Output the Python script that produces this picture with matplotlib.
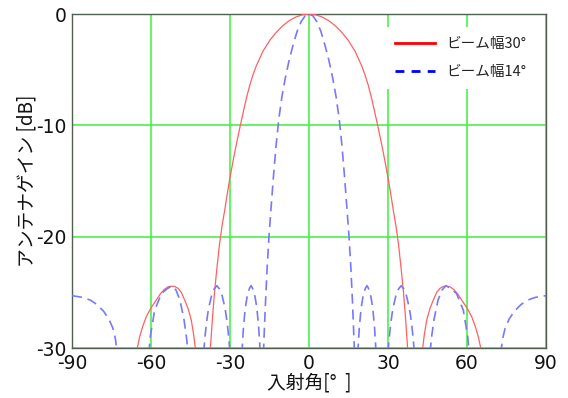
import numpy as np
import matplotlib
matplotlib.use("Agg")
import matplotlib.pyplot as plt
from matplotlib.lines import Line2D

plt.rcParams['font.family'] = ['Noto Sans CJK JP', 'DejaVu Sans']
plt.rcParams['axes.unicode_minus'] = False

nan = np.nan

# ---- data (angle in degrees, gain in dB) ----
# Beam width 30 deg (red, solid)
red_angle = [
    -65.6, -64.3, -63.2, -61.8, -60.0, -58.0, -56.5, -55.0, -53.5, -52.2, -51.0, -49.7, -48.5, -47.2, -46.0, -44.7, -43.8, -42.9, nan,
    -37.6, -37.1, -36.5, -35.8, -35.0, -34.0, -33.0, -32.0, -31.0, -30.0, -28.75, -27.5, -26.25, -25.0, -23.75, -22.5, -21.25,
    -20.0, -17.5, -15.0, -12.5, -10.0, -7.5, -5.0, -2.5,
    0.0,
    2.5, 5.0, 7.5, 10.0, 12.5, 15.0, 17.5, 20.0,
    21.25, 22.5, 23.75, 25.0, 26.25, 27.5, 28.75, 30.0, 31.0, 32.0, 33.0, 34.0, 35.0, 35.8, 36.5, 37.1, 37.6, nan,
    42.9, 43.8, 44.7, 46.0, 47.2, 48.5, 49.7, 51.0, 52.2, 53.5, 55.0, 56.5, 58.0, 60.0, 61.8, 63.2, 64.3, 65.6,
]
red_gain = [
    -30.4, -29.0, -28.1, -27.2, -26.4, -25.7, -25.15, -24.75, -24.5, -24.45, -24.47, -24.65, -25.0, -25.7, -26.4, -27.5, -28.8, -30.5, nan,
    -30.6, -28.8, -26.8, -24.8, -22.9, -20.7, -19.0, -17.6, -16.1, -14.7, -13.1, -11.6, -10.2, -8.85, -7.55, -6.4, -5.45,
    -4.65, -3.35, -2.4, -1.66, -1.06, -0.6, -0.27, -0.07,
    0.0,
    -0.07, -0.27, -0.6, -1.06, -1.66, -2.4, -3.35, -4.65,
    -5.45, -6.4, -7.55, -8.85, -10.2, -11.6, -13.1, -14.7, -16.1, -17.6, -19.0, -20.7, -22.9, -24.8, -26.8, -28.8, -30.6, nan,
    -30.5, -28.8, -27.5, -26.4, -25.7, -25.0, -24.65, -24.47, -24.45, -24.5, -24.75, -25.15, -25.7, -26.4, -27.2, -28.1, -29.0, -30.4,
]

# Beam width 14 deg (blue, dashed)
blue_angle = [
    -90.0, -86.0, -83.0, -80.5, -78.0, -76.0, -74.5, -73.5, -72.8, nan,
    -60.8, -60.3, -58.6, -56.0, -54.0, -52.0, -50.5, -49.0, -47.5, -46.5, -46.0, nan,
    -40.0, -39.5, -39.0, -38.5, -38.0, -37.0, -36.0, -35.0, -34.0, -33.0, -32.0, -31.5, -31.0, -30.5, -30.0, nan,
    -25.5, -24.9, -24.4, -24.0, -23.5, -23.0, -22.5, -22.0, -21.5, -21.0, -20.5, -20.0, -19.6, -19.1, -18.5, nan,
    -17.3, -17.0, -16.5, -15.9, -15.2, -14.5, -13.5, -12.5, -11.5, -10.3, -9.0, -7.5, -6.0, -4.5, -3.0, -1.5,
    0.0,
    1.5, 3.0, 4.5, 6.0, 7.5, 9.0, 10.3, 11.5, 12.5, 13.5, 14.5, 15.2, 15.9, 16.5, 17.0, 17.3, nan,
    18.5, 19.1, 19.6, 20.0, 20.5, 21.0, 21.5, 22.0, 22.5, 23.0, 23.5, 24.0, 24.4, 24.9, 25.5, nan,
    30.0, 30.5, 31.0, 31.5, 32.0, 33.0, 34.0, 35.0, 36.0, 37.0, 38.0, 38.5, 39.0, 39.5, 40.0, nan,
    46.0, 46.5, 47.5, 49.0, 50.5, 52.0, 54.0, 56.0, 58.6, 60.3, 60.8, nan,
    72.8, 73.5, 74.5, 76.0, 78.0, 80.5, 83.0, 86.0, 90.0,
]
blue_gain = [
    -25.3, -25.45, -25.7, -26.1, -26.7, -27.4, -28.2, -29.2, -30.5, nan,
    -30.5, -29.0, -26.6, -25.1, -24.7, -24.4, -24.8, -25.7, -27.4, -29.1, -30.4, nan,
    -30.4, -29.0, -27.9, -27.0, -26.3, -25.3, -24.7, -24.4, -24.7, -25.3, -26.3, -27.0, -27.9, -29.0, -30.4, nan,
    -30.5, -28.2, -26.9, -26.1, -25.4, -24.9, -24.6, -24.4, -24.6, -24.9, -25.4, -26.1, -26.9, -28.2, -30.5, nan,
    -30.5, -28.6, -25.8, -22.8, -20.0, -17.7, -14.6, -11.8, -9.5, -7.45, -5.75, -4.1, -2.75, -1.55, -0.7, -0.17,
    0.0,
    -0.17, -0.7, -1.55, -2.75, -4.1, -5.75, -7.45, -9.5, -11.8, -14.6, -17.7, -20.0, -22.8, -25.8, -28.6, -30.5, nan,
    -30.5, -28.2, -26.9, -26.1, -25.4, -24.9, -24.6, -24.4, -24.6, -24.9, -25.4, -26.1, -26.9, -28.2, -30.5, nan,
    -30.4, -29.0, -27.9, -27.0, -26.3, -25.3, -24.7, -24.4, -24.7, -25.3, -26.3, -27.0, -27.9, -29.0, -30.4, nan,
    -30.4, -29.1, -27.4, -25.7, -24.8, -24.4, -24.7, -25.1, -26.6, -29.0, -30.5, nan,
    -30.5, -29.2, -28.2, -27.4, -26.7, -26.1, -25.7, -25.45, -25.3,
]

x_ticks = [-90, -60, -30, 0, 30, 60, 90]
y_ticks = [0, -10, -20, -30]
series_labels = ['ビーム幅30°', 'ビーム幅14°']
x_label = '入射角[°  ]'
y_label = 'アンテナゲイン [dB]'

fig = plt.figure(figsize=(5.68, 3.98), dpi=100)
ax = fig.add_axes([72 / 568, 50 / 398, 474 / 568, 334 / 398])

ax.plot(red_angle, red_gain, color='#ff6060', lw=0.9, zorder=3)
ax.plot(blue_angle, blue_gain, color='#7878ff', lw=1.2, dashes=(6, 3.5), zorder=3)

ax.set_xlim(-90, 90)
ax.set_ylim(-30, 0)
ax.set_xticks(x_ticks)
ax.set_xticklabels([str(v) for v in x_ticks])
ax.set_yticks(y_ticks)
ax.set_yticklabels([str(v) for v in y_ticks])
ax.tick_params(length=0, labelsize=13.5, pad=4, labelcolor='#111111')
for lbl in ax.get_xticklabels() + ax.get_yticklabels():
    lbl.set_fontfamily(['DejaVu Sans'])

ax.grid(True, color='#3cf03c', lw=1.1, zorder=1)
ax.set_axisbelow(True)
for s in ax.spines.values():
    s.set_color('#506050')
    s.set_linewidth(1.0)

ax.set_xlabel(x_label, fontsize=13.5, labelpad=0, color='#111111')
ax.set_ylabel(y_label, fontsize=13.5, labelpad=-1.3, color='#111111')

handles = [
    Line2D([], [], color='#ff0000', lw=2.0),
    Line2D([], [], color='#0000ff', lw=2.0, dashes=(3.2, 2.6)),
]
leg = ax.legend(handles, series_labels, loc='upper right', bbox_to_anchor=(0.99, 0.975),
                frameon=True, fontsize=10.5, handlelength=2.75, handletextpad=0.8,
                labelspacing=0.95, borderpad=0.7, borderaxespad=0.3)
leg.get_frame().set_facecolor('white')
leg.get_frame().set_edgecolor('none')
leg.get_frame().set_alpha(1.0)
for t in leg.get_texts():
    t.set_color('#222222')

fig.savefig('out.png', dpi=100)
